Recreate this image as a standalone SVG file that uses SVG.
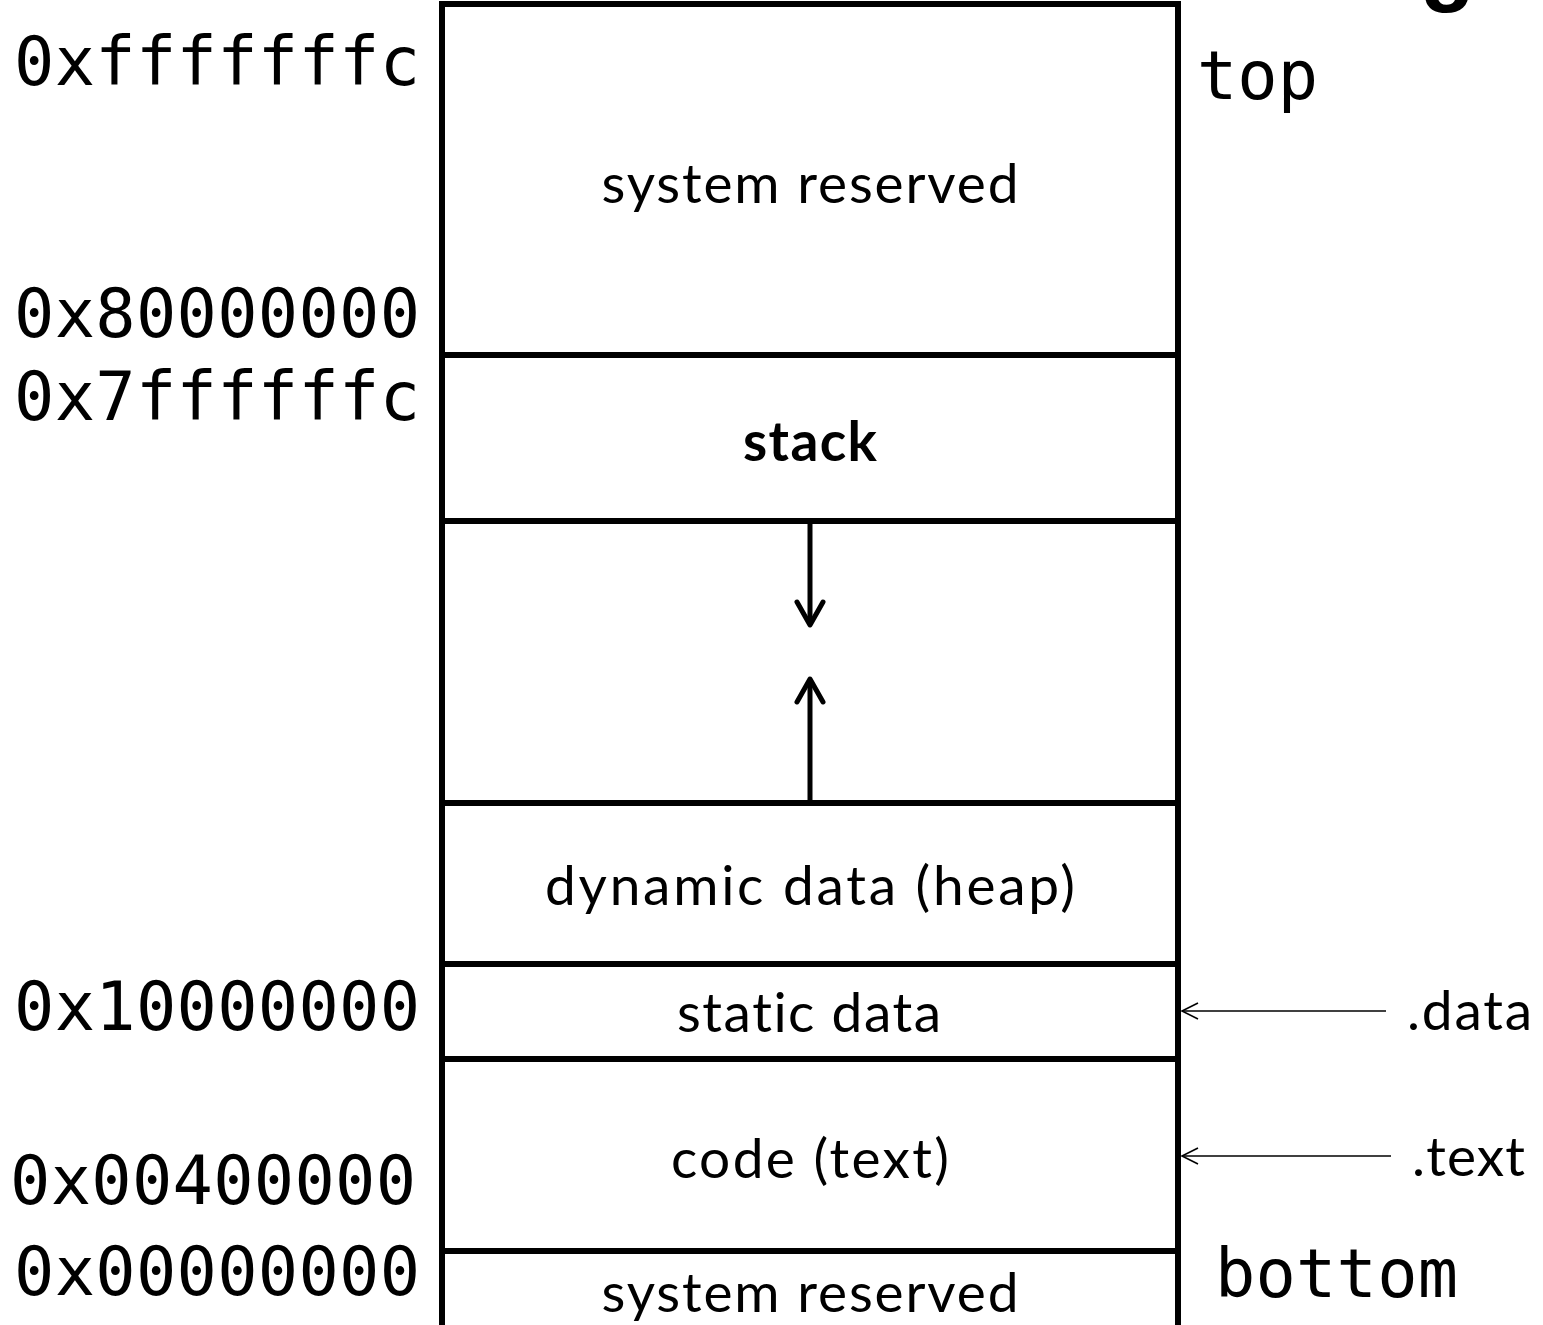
<svg xmlns="http://www.w3.org/2000/svg" width="1543" height="1325" viewBox="0 0 1543 1325">
<style>
.mono{font-family:"DejaVu Sans Mono","Liberation Mono",monospace;font-size:67px;fill:#000}
.lbl{font-family:Lato,"Open Sans","Liberation Sans",sans-serif;font-size:55px;fill:#000;text-anchor:middle;font-variant-ligatures:none}
.side{font-family:Lato,"Open Sans","Liberation Sans",sans-serif;font-size:55px;fill:#000}
.box{fill:none;stroke:#000;stroke-width:6}
.thick{stroke:#000;stroke-width:5;fill:none}
.thin{stroke:#000;stroke-width:1.6;fill:none}
</style>
<defs>
<marker id="open" viewBox="0 0 20 20" refX="18" refY="10" markerWidth="20" markerHeight="20" markerUnits="userSpaceOnUse" orient="auto">
<path d="M2,2 L18,10 L2,18" fill="none" stroke="#000" stroke-width="1.6"/>
</marker>
</defs>
<rect width="1543" height="1325" fill="#fff"/>
<text x="1420" y="-6" font-family="Liberation Sans,sans-serif" font-weight="bold" font-size="90">g</text>
<g id="memory">
<path class="box" d="M442,1330 V4 H1178 V1330"/>
<g id="seg-sysres-top"><line class="box" x1="442" y1="355" x2="1178" y2="355"/><text class="lbl" x="810" y="203" textLength="417">system reserved</text></g>
<g id="seg-stack"><line class="box" x1="442" y1="521" x2="1178" y2="521"/><text class="lbl" x="810" y="461" font-weight="bold" textLength="134">stack</text></g>
<g id="seg-free"><line class="box" x1="442" y1="803" x2="1178" y2="803"/></g>
<g id="seg-heap"><line class="box" x1="442" y1="964" x2="1178" y2="964"/><text class="lbl" x="810" y="905" textLength="530">dynamic data (heap)</text></g>
<g id="seg-static"><line class="box" x1="442" y1="1059" x2="1178" y2="1059"/><text class="lbl" x="809" y="1032" textLength="264">static data</text></g>
<g id="seg-code"><line class="box" x1="442" y1="1251" x2="1178" y2="1251"/><text class="lbl" x="810" y="1178" textLength="278">code (text)</text></g>
<g id="seg-sysres-bottom"><text class="lbl" x="810" y="1312" textLength="417">system reserved</text></g>
</g>
<g id="addresses">
<text class="mono" x="14" y="85" textLength="406">0xfffffffc</text>
<text class="mono" x="14" y="337" textLength="406">0x80000000</text>
<text class="mono" x="14" y="420" textLength="406">0x7ffffffc</text>
<text class="mono" x="14" y="1030" textLength="406">0x10000000</text>
<text class="mono" x="10" y="1204" textLength="406">0x00400000</text>
<text class="mono" x="14" y="1295" textLength="406">0x00000000</text>
<text class="mono" x="1197" y="99" textLength="121">top</text>
<text class="mono" x="1215" y="1297" textLength="243">bottom</text>
</g>
<g id="labels">
<text class="side" x="1407" y="1030" textLength="125">.data</text>
<text class="side" x="1412" y="1176" textLength="113">.text</text>
</g>
<g id="connectors">
<line class="thick" x1="810" y1="521" x2="810" y2="625"/>
<path class="thick" d="M797,602 L810,625 L823,602" stroke-linecap="round" stroke-linejoin="round"/>
<line class="thick" x1="810" y1="803" x2="810" y2="680"/>
<path class="thick" d="M797,702 L810,679 L823,702" stroke-linecap="round" stroke-linejoin="round"/>
<line class="thin" x1="1386" y1="1011" x2="1182" y2="1011" marker-end="url(#open)"/>
<line class="thin" x1="1391" y1="1156" x2="1182" y2="1156" marker-end="url(#open)"/>
</g>
</svg>
